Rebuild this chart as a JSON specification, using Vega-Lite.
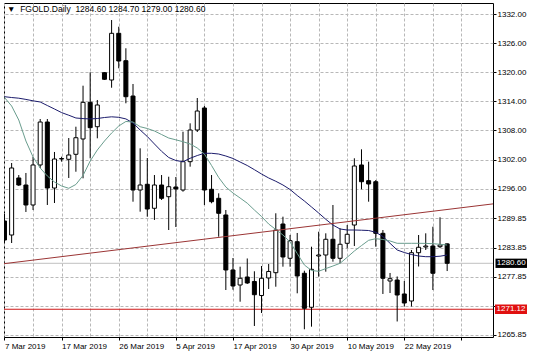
{
  "$schema": "https://vega.github.io/schema/vega-lite/v6.json",
  "width": 489,
  "height": 334,
  "autosize": {"type": "none"},
  "padding": {"left": 4, "top": 3, "right": 43, "bottom": 21},
  "background": "#ffffff",
  "title": {
    "text": "▼\u00a0\u00a0FGOLD.Daily\u00a0\u00a01284.60 1284.70 1279.00 1280.60",
    "anchor": "start",
    "frame": "group",
    "offset": 0,
    "baseline": "top",
    "dx": 3,
    "dy": 10,
    "font": "Liberation Sans",
    "fontSize": 8.5,
    "fontWeight": "normal",
    "color": "#000000"
  },
  "datasets": {
    "bars": [
      {"i":0,"o":1289.32,"h":1290.76,"l":1284.78,"c":1285.40,"ma_slow":1314.95,"ma_fast":1314.78},
      {"i":1,"o":1286.43,"h":1301.28,"l":1284.78,"c":1300.25,"ma_slow":1314.78,"ma_fast":1313.03},
      {"i":2,"o":1298.19,"h":1298.80,"l":1296.54,"c":1296.74,"ma_slow":1314.64,"ma_fast":1310.14},
      {"i":3,"o":1296.74,"h":1299.22,"l":1291.18,"c":1292.62,"ma_slow":1314.39,"ma_fast":1305.81},
      {"i":4,"o":1292.62,"h":1302.52,"l":1291.59,"c":1300.87,"ma_slow":1314.10,"ma_fast":1302.52},
      {"i":5,"o":1300.87,"h":1310.35,"l":1300.25,"c":1309.73,"ma_slow":1313.86,"ma_fast":1300.25},
      {"i":6,"o":1309.73,"h":1310.35,"l":1292.62,"c":1296.12,"ma_slow":1313.13,"ma_fast":1298.60},
      {"i":7,"o":1296.12,"h":1303.55,"l":1293.03,"c":1302.10,"ma_slow":1312.41,"ma_fast":1297.36},
      {"i":8,"o":1302.10,"h":1302.58,"l":1301.55,"c":1302.20,"ma_slow":1311.67,"ma_fast":1296.54},
      {"i":9,"o":1302.04,"h":1306.43,"l":1298.19,"c":1302.93,"ma_slow":1311.13,"ma_fast":1296.06},
      {"i":10,"o":1303.07,"h":1308.76,"l":1299.48,"c":1306.49,"ma_slow":1310.56,"ma_fast":1296.85},
      {"i":11,"o":1306.23,"h":1317.22,"l":1298.12,"c":1313.79,"ma_slow":1310.43,"ma_fast":1298.70},
      {"i":12,"o":1313.79,"h":1319.98,"l":1302.25,"c":1308.56,"ma_slow":1310.37,"ma_fast":1301.69},
      {"i":13,"o":1308.76,"h":1314.27,"l":1306.37,"c":1313.24,"ma_slow":1310.45,"ma_fast":1303.96},
      {"i":14,"o":1319.90,"h":1320.00,"l":1318.40,"c":1318.54,"ma_slow":1310.66,"ma_fast":1305.81},
      {"i":15,"o":1318.39,"h":1330.76,"l":1316.80,"c":1328.02,"ma_slow":1310.80,"ma_fast":1307.46},
      {"i":16,"o":1328.02,"h":1329.38,"l":1320.80,"c":1322.31,"ma_slow":1310.70,"ma_fast":1308.91},
      {"i":17,"o":1322.37,"h":1324.93,"l":1313.59,"c":1314.95,"ma_slow":1310.37,"ma_fast":1309.84},
      {"i":18,"o":1315.09,"h":1317.57,"l":1293.30,"c":1295.71,"ma_slow":1309.53,"ma_fast":1309.73},
      {"i":19,"o":1295.71,"h":1304.31,"l":1291.24,"c":1296.74,"ma_slow":1308.08,"ma_fast":1308.76},
      {"i":20,"o":1296.89,"h":1302.31,"l":1290.21,"c":1291.79,"ma_slow":1306.74,"ma_fast":1308.39},
      {"i":21,"o":1291.94,"h":1298.80,"l":1289.53,"c":1296.74,"ma_slow":1305.20,"ma_fast":1307.88},
      {"i":22,"o":1296.74,"h":1298.80,"l":1293.65,"c":1294.00,"ma_slow":1303.69,"ma_fast":1307.15},
      {"i":23,"o":1294.33,"h":1298.45,"l":1287.46,"c":1296.39,"ma_slow":1302.41,"ma_fast":1306.43},
      {"i":24,"o":1296.33,"h":1298.39,"l":1288.08,"c":1295.92,"ma_slow":1301.79,"ma_fast":1306.06},
      {"i":25,"o":1295.71,"h":1307.73,"l":1295.36,"c":1301.55,"ma_slow":1301.55,"ma_fast":1305.67},
      {"i":26,"o":1301.55,"h":1309.46,"l":1300.52,"c":1308.08,"ma_slow":1302.25,"ma_fast":1305.20},
      {"i":27,"o":1308.08,"h":1314.68,"l":1307.67,"c":1312.00,"ma_slow":1302.82,"ma_fast":1304.37},
      {"i":28,"o":1312.62,"h":1313.03,"l":1292.62,"c":1295.71,"ma_slow":1303.28,"ma_fast":1303.13},
      {"i":29,"o":1295.86,"h":1298.80,"l":1292.97,"c":1293.30,"ma_slow":1303.28,"ma_fast":1300.76},
      {"i":30,"o":1294.00,"h":1295.03,"l":1286.08,"c":1290.91,"ma_slow":1303.13,"ma_fast":1298.29},
      {"i":31,"o":1290.56,"h":1291.59,"l":1275.09,"c":1279.22,"ma_slow":1302.72,"ma_fast":1296.33},
      {"i":32,"o":1279.22,"h":1281.69,"l":1275.15,"c":1275.92,"ma_slow":1302.21,"ma_fast":1295.09},
      {"i":33,"o":1276.12,"h":1279.90,"l":1272.68,"c":1277.51,"ma_slow":1301.48,"ma_fast":1294.06},
      {"i":34,"o":1277.77,"h":1281.59,"l":1276.33,"c":1276.54,"ma_slow":1300.76,"ma_fast":1292.99},
      {"i":35,"o":1276.85,"h":1278.95,"l":1267.67,"c":1274.12,"ma_slow":1299.90,"ma_fast":1291.59},
      {"i":36,"o":1273.96,"h":1280.04,"l":1270.35,"c":1277.51,"ma_slow":1299.01,"ma_fast":1290.25},
      {"i":37,"o":1277.57,"h":1280.45,"l":1275.30,"c":1278.91,"ma_slow":1298.19,"ma_fast":1288.70},
      {"i":38,"o":1278.66,"h":1290.91,"l":1275.77,"c":1287.46,"ma_slow":1297.51,"ma_fast":1287.57},
      {"i":39,"o":1288.70,"h":1290.21,"l":1279.90,"c":1281.90,"ma_slow":1296.74,"ma_fast":1286.43},
      {"i":40,"o":1281.63,"h":1286.43,"l":1279.90,"c":1285.26,"ma_slow":1295.81,"ma_fast":1284.99},
      {"i":41,"o":1285.05,"h":1286.85,"l":1274.41,"c":1277.98,"ma_slow":1294.58,"ma_fast":1282.62},
      {"i":42,"o":1278.54,"h":1279.07,"l":1266.99,"c":1271.32,"ma_slow":1293.44,"ma_fast":1280.25},
      {"i":43,"o":1271.53,"h":1284.02,"l":1267.53,"c":1279.36,"ma_slow":1292.21,"ma_fast":1279.11},
      {"i":44,"o":1282.10,"h":1287.11,"l":1277.84,"c":1282.31,"ma_slow":1290.97,"ma_fast":1278.95},
      {"i":45,"o":1282.31,"h":1286.78,"l":1278.87,"c":1285.55,"ma_slow":1289.67,"ma_fast":1279.51},
      {"i":46,"o":1285.55,"h":1292.62,"l":1280.93,"c":1281.63,"ma_slow":1288.49,"ma_fast":1280.04},
      {"i":47,"o":1281.63,"h":1287.81,"l":1280.60,"c":1284.52,"ma_slow":1287.67,"ma_fast":1280.60},
      {"i":48,"o":1284.72,"h":1288.49,"l":1283.69,"c":1286.58,"ma_slow":1287.46,"ma_fast":1281.84},
      {"i":49,"o":1288.49,"h":1302.25,"l":1284.16,"c":1300.66,"ma_slow":1287.46,"ma_fast":1283.13},
      {"i":50,"o":1300.87,"h":1304.10,"l":1295.86,"c":1297.42,"ma_slow":1287.42,"ma_fast":1284.25},
      {"i":51,"o":1297.63,"h":1301.55,"l":1293.30,"c":1296.95,"ma_slow":1287.36,"ma_fast":1285.34},
      {"i":52,"o":1297.42,"h":1297.77,"l":1284.02,"c":1286.78,"ma_slow":1286.99,"ma_fast":1285.67},
      {"i":53,"o":1286.78,"h":1287.46,"l":1274.27,"c":1277.51,"ma_slow":1286.12,"ma_fast":1285.51},
      {"i":54,"o":1276.95,"h":1278.60,"l":1274.47,"c":1277.42,"ma_slow":1284.72,"ma_fast":1285.20},
      {"i":55,"o":1277.15,"h":1277.88,"l":1268.60,"c":1274.06,"ma_slow":1283.34,"ma_fast":1284.72},
      {"i":56,"o":1274.27,"h":1276.95,"l":1271.69,"c":1272.41,"ma_slow":1282.82,"ma_fast":1284.72},
      {"i":57,"o":1272.82,"h":1283.34,"l":1271.69,"c":1282.78,"ma_slow":1282.41,"ma_fast":1284.72},
      {"i":58,"o":1282.78,"h":1286.43,"l":1279.94,"c":1283.90,"ma_slow":1282.10,"ma_fast":1284.72},
      {"i":59,"o":1283.96,"h":1286.78,"l":1283.34,"c":1284.16,"ma_slow":1281.96,"ma_fast":1284.70},
      {"i":60,"o":1284.16,"h":1288.14,"l":1275.09,"c":1278.54,"ma_slow":1281.96,"ma_fast":1284.64},
      {"i":61,"o":1284.02,"h":1290.08,"l":1283.75,"c":1284.37,"ma_slow":1282.06,"ma_fast":1284.52},
      {"i":62,"o":1284.60,"h":1284.70,"l":1279.00,"c":1280.60,"ma_slow":1282.31,"ma_fast":1284.37}
    ],
    "trend": [
      {"i": -0.07, "p": 1280.52},
      {"i": 68.42, "p": 1292.85}
    ],
    "levels": [
      {"name": "bid", "p": 1280.60},
      {"name": "support", "p": 1271.12}
    ],
    "tags": [
      {"label": "1280.60", "p": 1280.60, "p1": 1279.64, "p2": 1281.56, "x1": 68.77, "x2": 73.18, "xm": 70.97, "box": "#000000"},
      {"label": "1271.12", "p": 1271.12, "p1": 1270.16, "p2": 1272.08, "x1": 68.70, "x2": 73.18, "xm": 70.94, "box": "#e01010"}
    ]
  },
  "encoding": {
    "x": {
      "field": "i",
      "type": "quantitative",
      "scale": {"domain": [-0.07, 68.42], "nice": false, "zero": false, "padding": 0},
      "axis": {
        "title": null,
        "values": [0,4,8,12,16,20,24,28,32,36,40,44,48,52,56,60,64],
        "labelExpr": "(datum.value % 8 == 0 && datum.value <= 56) ? ['7 Mar 2019','17 Mar 2019','26 Mar 2019','5 Apr 2019','17 Apr 2019','30 Apr 2019','10 May 2019','22 May 2019'][datum.value / 8] : ''",
        "labelAlign": "left",
        "labelBaseline": "top",
        "labelPadding": 2,
        "labelFlush": false,
        "labelOverlap": false,
        "labelFont": "Liberation Sans",
        "labelFontSize": 8,
        "labelColor": "#000000",
        "tickSize": 3,
        "tickColor": "#000000",
        "tickOpacity": {"condition": {"test": "datum.value % 8 != 0", "value": 0}, "value": 1},
        "domain": false,
        "grid": true,
        "gridColor": "#b8b8b8",
        "gridDash": [3, 2],
        "gridWidth": 1
      }
    },
    "y": {
      "type": "quantitative",
      "scale": {"domain": [1265.4, 1334.27], "nice": false, "zero": false},
      "axis": {
        "title": null,
        "orient": "right",
        "values": [1265.85, 1271.85, 1277.85, 1283.85, 1289.85, 1296, 1302, 1308, 1314, 1320, 1326, 1332],
        "labelExpr": "datum.value == 1271.85 ? '' : format(datum.value, '.2f')",
        "labelFont": "Liberation Sans",
        "labelFontSize": 8,
        "labelColor": "#000000",
        "labelPadding": 1,
        "labelBaseline": "middle",
        "labelFlush": false,
        "labelOverlap": false,
        "tickSize": 3,
        "tickColor": "#000000",
        "domain": false,
        "grid": true,
        "gridColor": "#b8b8b8",
        "gridDash": [3, 2],
        "gridWidth": 1
      }
    }
  },
  "layer": [
    {
      "data": {"name": "levels"},
      "mark": {"type": "rule", "strokeWidth": 1},
      "encoding": {
        "y": {"field": "p", "type": "quantitative"},
        "x": null,
        "color": {
          "field": "name",
          "type": "nominal",
          "scale": {"domain": ["bid", "support"], "range": ["#c0c0c0", "#d01818"]},
          "legend": null
        }
      }
    },
    {
      "data": {"name": "bars"},
      "mark": {"type": "rule", "color": "#000000", "strokeWidth": 1, "clip": true},
      "encoding": {
        "y": {"field": "l", "type": "quantitative"},
        "y2": {"field": "h"}
      }
    },
    {
      "data": {"name": "bars"},
      "mark": {"type": "bar", "orient": "vertical", "size": 4, "stroke": "#000000", "strokeWidth": 1, "clip": true},
      "encoding": {
        "y": {"field": "o", "type": "quantitative"},
        "y2": {"field": "c"},
        "fill": {"condition": {"test": "datum.c >= datum.o", "value": "#ffffff"}, "value": "#000000"}
      }
    },
    {
      "data": {"name": "bars"},
      "mark": {"type": "line", "color": "#1c1c6c", "strokeWidth": 1, "clip": true},
      "encoding": {
        "y": {"field": "ma_slow", "type": "quantitative"}
      }
    },
    {
      "data": {"name": "bars"},
      "mark": {"type": "line", "color": "#6a9d8e", "strokeWidth": 1, "clip": true},
      "encoding": {
        "y": {"field": "ma_fast", "type": "quantitative"}
      }
    },
    {
      "data": {"name": "trend"},
      "mark": {"type": "line", "color": "#9b3535", "strokeWidth": 1, "clip": true},
      "encoding": {
        "y": {"field": "p", "type": "quantitative"}
      }
    },
    {
      "data": {"name": "tags"},
      "mark": {"type": "rect", "clip": false},
      "encoding": {
        "x": {"field": "x1", "type": "quantitative"},
        "x2": {"field": "x2"},
        "y": {"field": "p1", "type": "quantitative"},
        "y2": {"field": "p2"},
        "fill": {"field": "box", "type": "nominal", "scale": null}
      }
    },
    {
      "data": {"name": "tags"},
      "mark": {"type": "text", "clip": false, "color": "#ffffff", "font": "Liberation Sans", "fontSize": 8, "align": "center", "baseline": "middle"},
      "encoding": {
        "x": {"field": "xm", "type": "quantitative"},
        "y": {"field": "p", "type": "quantitative"},
        "text": {"field": "label", "type": "nominal"}
      }
    }
  ],
  "config": {
    "view": {"stroke": "#000000", "strokeWidth": 1},
    "axis": {"labelFontWeight": "normal"}
  }
}
